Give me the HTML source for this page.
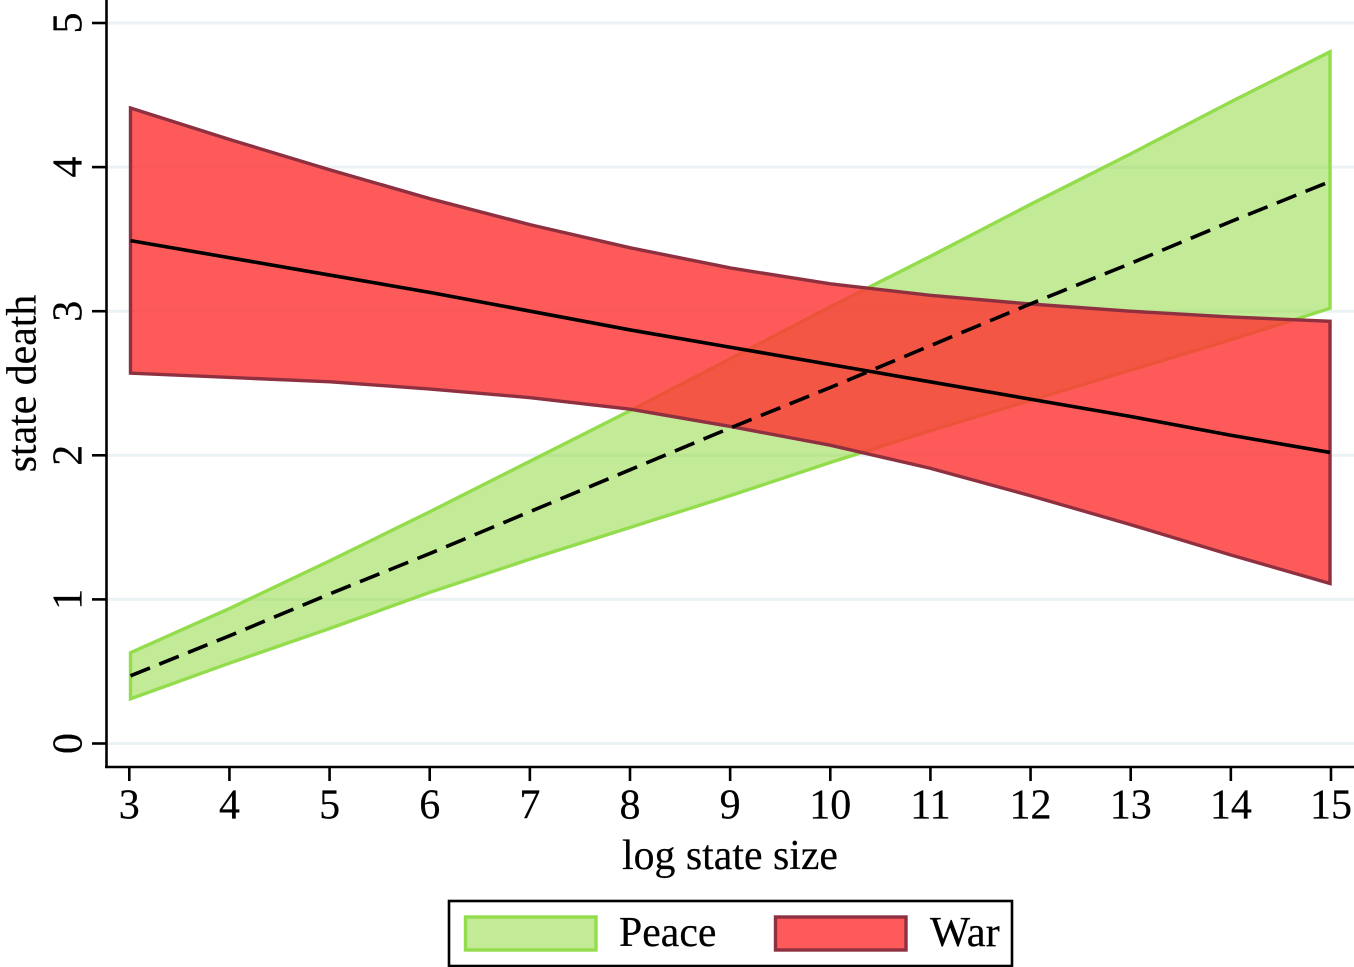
<!DOCTYPE html>
<html>
<head>
<meta charset="utf-8">
<style>
html,body{margin:0;padding:0;background:#fff;width:1354px;height:967px;overflow:hidden}
svg{display:block}
text{font-family:"Liberation Serif",serif;fill:#000;stroke:#000;stroke-width:0.2px}
</style>
</head>
<body>
<svg id="chart" width="1354" height="967" viewBox="0 0 1354 967" xmlns="http://www.w3.org/2000/svg"></svg>
<script>
const xValues = [3,4,5,6,7,8,9,10,11,12,13,14,15];
const yTicks = [0,1,2,3,4,5];
const peaceUpper = [0.63,0.94,1.27,1.61,1.96,2.31,2.67,3.03,3.38,3.74,4.09,4.45,4.80];
const peaceLower = [0.31,0.56,0.80,1.05,1.28,1.50,1.72,1.95,2.17,2.38,2.59,2.80,3.02];
const peaceMean = [0.47,0.75,1.04,1.32,1.61,1.90,2.19,2.47,2.76,3.05,3.33,3.62,3.90];
const warUpper = [4.41,4.19,3.98,3.78,3.60,3.44,3.30,3.19,3.11,3.05,3.00,2.96,2.93];
const warLower = [2.57,2.54,2.51,2.46,2.40,2.32,2.20,2.07,1.91,1.72,1.52,1.31,1.11];
const warMean = [3.49,3.37,3.25,3.13,3.00,2.87,2.75,2.63,2.51,2.39,2.27,2.14,2.02];
const xAxisTitle = 'log state size';
const yAxisTitle = 'state death';
const legendLabels = ['Peace','War'];

const NS = 'http://www.w3.org/2000/svg';
const svg = document.getElementById('chart');
const sx = v => 130.5 + (v - 3) * 99.96;
const tx = v => 129.3 + (v - 3) * 100.14;
const sy = v => 743.5 - v * 144.1;
function make(tag, attrs, text){
  const el = document.createElementNS(NS, tag);
  for (const k in attrs) el.setAttribute(k, attrs[k]);
  if (text !== undefined) el.textContent = text;
  svg.appendChild(el);
  return el;
}
const PEACE_FILL = 'rgb(136,214,48)', PEACE_LINE = '#93dc4c';
const WAR_FILL = 'rgb(255,52,52)', WAR_LINE = '#8f3040';

yTicks.forEach(t => {
  const g = make('line', {x1:108,x2:1354,y1:sy(t),y2:sy(t),stroke:'#eaf2f3','stroke-width':3});
  
  
});

function band(upper, lower, fill, op, line, name){
  const pts = xValues.map((x,i) => sx(x)+','+sy(upper[i]))
    .concat(xValues.map((x,i) => sx(x)+','+sy(lower[i])).reverse()).join(' ');
  const f = make('polygon', {points:pts, fill:fill, 'fill-opacity':op, stroke:'none'});
  
  
  const s = make('polygon', {points:pts, fill:'none', stroke:line, 'stroke-width':3.4, 'stroke-linejoin':'miter'});
  
  
}
band(peaceUpper, peaceLower, PEACE_FILL, 0.5, PEACE_LINE, 'peace');
band(warUpper, warLower, WAR_FILL, 0.81, WAR_LINE, 'war');

const warPath = make('polyline', {points:xValues.map((x,i)=>sx(x)+','+sy(warMean[i])).join(' '),fill:'none',stroke:'#000','stroke-width':3.6});


const peacePath = make('polyline', {points:xValues.map((x,i)=>sx(x)+','+sy(peaceMean[i])).join(' '),fill:'none',stroke:'#000','stroke-width':3.6,'stroke-dasharray':'21 10'});



const yAxis = make('line', {x1:106.5,x2:106.5,y1:0,y2:768,stroke:'#000','stroke-width':2.6});


const xAxis = make('line', {x1:105,x2:1354,y1:767,y2:767,stroke:'#000','stroke-width':2.6});



yTicks.forEach(t => {
  const k = make('line', {x1:92,x2:106,y1:sy(t),y2:sy(t),stroke:'#000','stroke-width':2.6});
  
  
  const l = make('text', {transform:'translate(81.5,'+sy(t)+') rotate(-90)','text-anchor':'middle','font-size':42}, String(t));
  
  
});
xValues.forEach(v => {
  const k = make('line', {x1:tx(v),x2:tx(v),y1:767,y2:781,stroke:'#000','stroke-width':2.6});
  
  
  const l = make('text', {x:tx(v),y:818.5,'text-anchor':'middle','font-size':42}, String(v));
  
  
});

const xt = make('text', {x:730,y:869,'text-anchor':'middle','font-size':41.8}, xAxisTitle);


const yt = make('text', {transform:'translate(35.5,383.5) rotate(-90)','text-anchor':'middle','font-size':41.8}, yAxisTitle);



const box = make('rect', {x:449,y:901,width:563,height:65,fill:'#fff',stroke:'#000','stroke-width':2.6});


const sw1 = make('rect', {x:465.5,y:917,width:130.5,height:33,fill:'#c3ea97',stroke:PEACE_LINE,'stroke-width':3.4});


const l1 = make('text', {x:619,y:946,'font-size':41.8}, legendLabels[0]);


const sw2 = make('rect', {x:775.5,y:917,width:130.5,height:33,fill:'#ff5a5a',stroke:WAR_LINE,'stroke-width':3.4});


const l2 = make('text', {x:930,y:946,'font-size':42.5}, legendLabels[1]);


</script>
</body>
</html>
